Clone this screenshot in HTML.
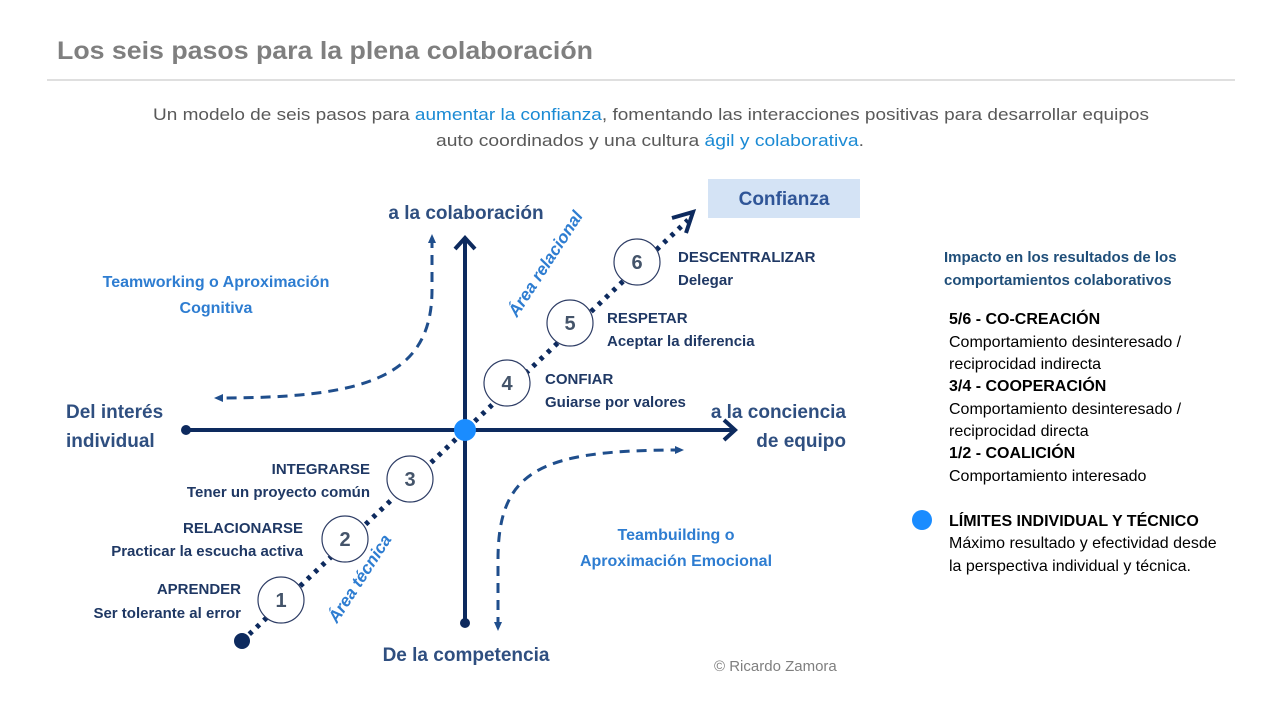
<!DOCTYPE html>
<html><head><meta charset="utf-8"><style>
body{margin:0;background:#fff;}
svg{display:block;font-family:"Liberation Sans",sans-serif;}
</style></head><body>
<svg width="1280" height="720" viewBox="0 0 1280 720" xmlns="http://www.w3.org/2000/svg">
<defs>
<marker id="sm" markerWidth="10" markerHeight="10" refX="5" refY="5" orient="auto-start-reverse" markerUnits="userSpaceOnUse">
<path d="M0,1 L9,5 L0,9 z" fill="#1f4e8c"/></marker>
</defs>
<text x="57" y="59" font-size="25" font-weight="bold" fill="#7f7f7f" textLength="536" lengthAdjust="spacingAndGlyphs">Los seis pasos para la plena colaboración</text>
<line x1="47" y1="80" x2="1235" y2="80" stroke="#bfbfbf" stroke-width="1"/>
<text x="153" y="120" font-size="17" fill="#595959" textLength="996" lengthAdjust="spacingAndGlyphs">Un modelo de seis pasos para <tspan fill="#1a8ad4">aumentar la confianza</tspan>, fomentando las interacciones positivas para desarrollar equipos</text>
<text x="436" y="146" font-size="17" fill="#595959" textLength="428" lengthAdjust="spacingAndGlyphs">auto coordinados y una cultura <tspan fill="#1a8ad4">ágil y colaborativa</tspan>.</text>

<rect x="708" y="179" width="152" height="39" fill="#d4e3f5"/>
<text x="784" y="205" font-size="19" font-weight="bold" fill="#2f5597" text-anchor="middle">Confianza</text>

<!-- axes -->
<line x1="186" y1="430" x2="733" y2="430" stroke="#0d2a5e" stroke-width="4"/>
<path d="M724,420 L735,430 L724,440" fill="none" stroke="#0d2a5e" stroke-width="4"/>
<circle cx="186" cy="430" r="5" fill="#0d2a5e"/>
<line x1="465" y1="623" x2="465" y2="240" stroke="#0d2a5e" stroke-width="4"/>
<path d="M455,249 L465,238 L475,249" fill="none" stroke="#0d2a5e" stroke-width="4"/>
<circle cx="465" cy="623" r="5" fill="#0d2a5e"/>

<!-- dashed curves -->
<path d="M432,238 L432,290 C432,380 360,398 218,398" fill="none" stroke="#1f4e8c" stroke-width="3" stroke-dasharray="10,7" marker-start="url(#sm)" marker-end="url(#sm)"/>
<path d="M498,627 L498,560 C498,470 540,450 680,450" fill="none" stroke="#1f4e8c" stroke-width="3" stroke-dasharray="10,7" marker-start="url(#sm)" marker-end="url(#sm)"/>

<!-- diagonal -->
<line x1="242" y1="641" x2="688" y2="220" stroke="#0d2a5e" stroke-width="5" stroke-dasharray="4,6"/>
<path d="M672,218 L693,212 L686,233" fill="none" stroke="#0d2a5e" stroke-width="4"/>
<circle cx="242" cy="641" r="8" fill="#0d2a5e"/>
<circle cx="465" cy="430" r="11" fill="#1a8cff"/>

<g fill="#fff" stroke="#2f3e66" stroke-width="1.2">
<circle cx="281" cy="600" r="23"/><circle cx="345" cy="539" r="23"/><circle cx="410" cy="479" r="23"/>
<circle cx="507" cy="383" r="23"/><circle cx="570" cy="323" r="23"/><circle cx="637" cy="262" r="23"/>
</g>
<g font-size="20" fill="#44546a" text-anchor="middle" font-weight="bold">
<text x="281" y="607">1</text><text x="345" y="546">2</text><text x="410" y="486">3</text>
<text x="507" y="390">4</text><text x="570" y="330">5</text><text x="637" y="269">6</text>
</g>

<g font-size="15" font-weight="bold" fill="#1f3864">
<text x="241" y="594" text-anchor="end">APRENDER</text>
<text x="241" y="618" text-anchor="end">Ser tolerante al error</text>
<text x="303" y="533" text-anchor="end">RELACIONARSE</text>
<text x="303" y="556" text-anchor="end">Practicar la escucha activa</text>
<text x="370" y="474" text-anchor="end">INTEGRARSE</text>
<text x="370" y="497" text-anchor="end">Tener un proyecto común</text>
<text x="545" y="384">CONFIAR</text>
<text x="545" y="407">Guiarse por valores</text>
<text x="607" y="323">RESPETAR</text>
<text x="607" y="346">Aceptar la diferencia</text>
<text x="678" y="262">DESCENTRALIZAR</text>
<text x="678" y="285">Delegar</text>
</g>

<g font-size="19" font-weight="bold" fill="#2f4f80">
<text x="466" y="219" text-anchor="middle">a la colaboración</text>
<text x="466" y="661" text-anchor="middle">De la competencia</text>
<text x="66" y="418">Del interés</text>
<text x="66" y="447">individual</text>
<text x="846" y="418" text-anchor="end">a la conciencia</text>
<text x="846" y="447" text-anchor="end">de equipo</text>
</g>

<g font-size="16" font-weight="bold" fill="#2e7dd1" text-anchor="middle">
<text x="216" y="287">Teamworking  o Aproximación</text>
<text x="216" y="313">Cognitiva</text>
<text x="676" y="540">Teambuilding  o</text>
<text x="676" y="566">Aproximación  Emocional</text>
</g>
<g font-size="17" font-weight="bold" font-style="italic" fill="#2e7dd1">
<text transform="translate(517,318) rotate(-57)">Área relacional</text>
<text transform="translate(337,624) rotate(-57)">Área técnica</text>
</g>

<text x="714" y="671" font-size="15" fill="#7f7f7f">© Ricardo Zamora</text>

<g font-size="15" font-weight="bold" fill="#1f4e79">
<text x="944" y="262">Impacto en los resultados de los</text>
<text x="944" y="285">comportamientos colaborativos</text>
</g>
<g font-size="16" fill="#000">
<text x="949" y="324" font-weight="bold">5/6 - CO-CREACIÓN</text>
<text x="949" y="347">Comportamiento desinteresado /</text>
<text x="949" y="369">reciprocidad indirecta</text>
<text x="949" y="391" font-weight="bold">3/4 - COOPERACIÓN</text>
<text x="949" y="414">Comportamiento desinteresado /</text>
<text x="949" y="436">reciprocidad directa</text>
<text x="949" y="458" font-weight="bold">1/2 - COALICIÓN</text>
<text x="949" y="481">Comportamiento interesado</text>
<text x="949" y="526" font-weight="bold">LÍMITES INDIVIDUAL Y TÉCNICO</text>
<text x="949" y="548">Máximo resultado y efectividad desde</text>
<text x="949" y="571">la perspectiva individual y técnica.</text>
</g>
<circle cx="922" cy="520" r="10" fill="#1a8cff"/>
</svg>
</body></html>
